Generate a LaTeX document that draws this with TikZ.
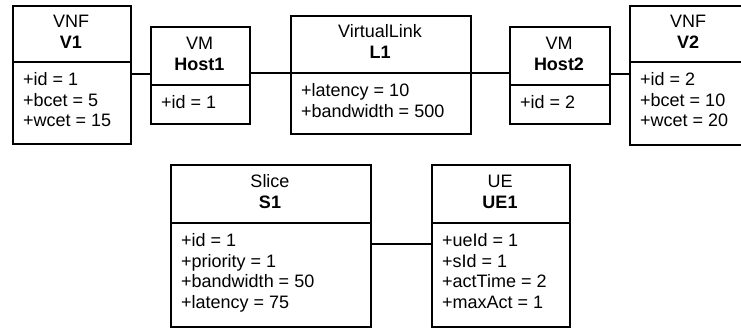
\documentclass[tikz,border=0pt]{standalone}
\usepackage{fontspec}
\setmainfont{Liberation Sans}
\begin{document}
\begin{tikzpicture}[x=1pt,y=-1pt,
  umlbox/.style={draw, line width=1.5pt, rectangle, inner sep=0pt, anchor=north west},
  divider/.style={line width=1.5pt},
  conn/.style={line width=1.5pt},
  txt/.style={inner sep=0pt, font=\fontsize{18}{20}\selectfont},
  stereo/.style={txt, anchor=base},
  attr/.style={txt, anchor=base west}]
\useasboundingbox (0,0) rectangle (741,327);
% \umlcls{name}{x}{y}{w}{h}{divider y}{stereotype}{instance}{attrs}
\newcommand\umlcls[9]{%
  \node[umlbox, minimum width=#4pt, minimum height=#5pt] (#1) at (#2,#3) {};
  \draw[divider] (#1.west |- 0,#6) -- (#1.east |- 0,#6);
  \pgfmathsetmacro\cxx{#2+#4/2}
  \pgfmathsetmacro\cyy{(#3+#6)/2}
  \node[stereo] (#1-s) at (\cxx,\cyy-6.5) {#7};
  \node[stereo] (#1-n) at (\cxx,\cyy+14.5) {\bfseries #8};
  \foreach \t [count=\i from 0] in {#9} {
    \node[attr] (#1-a\i) at (#2+11,#6+23.5+20.5*\i) {\t};
  }
}
\umlcls{v1}{12}{5}{118}{138}{62}{VNF}{V1}{+id = 1,+bcet = 5,+wcet = 15}
\umlcls{host1}{150}{26}{99}{97}{85}{VM}{Host1}{+id = 1}
\umlcls{l1}{290}{15}{180}{118}{73}{VirtualLink}{L1}{+latency = 10,+bandwidth = 500}
\umlcls{host2}{509}{26}{100}{97}{85}{VM}{Host2}{+id = 2}
\umlcls{v2}{629}{5}{118}{139}{62}{VNF}{V2}{+id = 2,+bcet = 10,+wcet = 20}
\umlcls{s1}{170}{164}{200}{162}{223}{Slice}{S1}{+id = 1,+priority = 1,+bandwidth = 50,+latency = 75}
\umlcls{ue1}{431}{164}{138}{162}{223}{UE}{UE1}{+ueId = 1,+sId = 1,+actTime = 2,+maxAct = 1}
\draw[conn] (v1.east |- 0,74) -- (host1.west |- 0,74);
\draw[conn] (host1.east |- 0,73) -- (l1.west |- 0,73);
\draw[conn] (l1.east |- 0,73) -- (host2.west |- 0,73);
\draw[conn] (host2.east |- 0,74) -- (v2.west |- 0,74);
\draw[conn] (s1.east |- 0,244) -- (ue1.west |- 0,244);
\end{tikzpicture}
\end{document}
